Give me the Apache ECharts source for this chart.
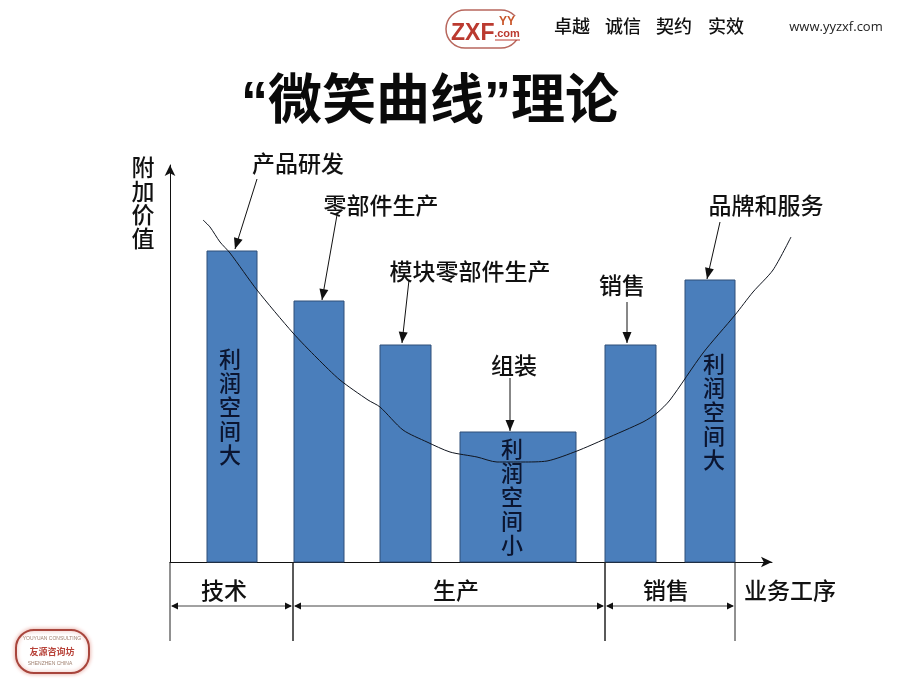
<!DOCTYPE html>
<html><head><meta charset="utf-8">
<style>html,body{margin:0;padding:0;background:#fff}#c{width:920px;height:690px}</style>
<script src="https://cdn.jsdelivr.net/npm/echarts@6/dist/echarts.min.js"></script>
</head><body><div id="c"></div>
<script>
const barNames   = ['产品研发','零部件生产','模块零部件生产','组装','销售','品牌和服务'];
const barStarts  = [37,124,210,290,435,515];
const barEnds    = [87,174,261,406,486,565];
const barValues  = [311,261,217,130,217,282];
const curveX = [33,40,50,60,87,123,147,170,198,210,233,257,280,307,327,353,377,407,435,473,487,500,533,565,583,603,621];
const curveY = [342,335,320,309,272,229,204,182,162,155,132,120,110,105,100,100,101,111,123,140,149,162,209,247,270,292,325];
const labelX = [128,211,300,344,452,596];
const labelY = [399,357,291,197,277,357];
const arrowFromX = [87,167,239,340,457,550];
const arrowFromY = [383,347,282,184,260,340];
const arrowToX   = [65,152,232,340,457,537];
const arrowToY   = [313,262,219,131,219,283];
const innerTexts = ['利润空间大','利润空间小','利润空间大'];
const innerX = [60,342,544];
const innerY = [155,65,150];
const stageNames = ['技术','生产','销售'];
const stageEdges = [0,123,435,565];
const stageLabelX = [54,286,496];
const xAxisName = '业务工序';
const yAxisName = '附加价值';
const titleText = '“微笑曲线”理论';
const slogan = ['卓越','诚信','契约','实效'];
const sloganX = [572,623,674,726];
const website = 'www.yyzxf.com';

const LABEL_FONT = '500 23px "Noto Sans CJK SC"';
const NAVY = '#0b1530';

function arrowHead(tip, from, len, half, color){
  const dx = tip[0]-from[0], dy = tip[1]-from[1], d = Math.hypot(dx,dy)||1;
  const ux = dx/d, uy = dy/d;
  const bx = tip[0]-ux*len, by = tip[1]-uy*len;
  return {type:'polygon',shape:{points:[tip,[bx-uy*half,by+ux*half],[bx+uy*half,by-ux*half]]},style:{fill:color}};
}
function text(t,x,y,font,fill,lineHeight){
  return {type:'text',style:{text:t,x:x,y:y,font:font,fill:fill||'#111',align:'center',verticalAlign:'middle',lineHeight:lineHeight}};
}
const vertical = s => s.split('').join('\n');

const option = {
  backgroundColor:'#ffffff',
  animation:false,
  title:{text:titleText,left:425,top:72,textAlign:'center',
    textStyle:{fontFamily:'"Liberation Sans","Noto Sans CJK SC"',fontSize:54,fontWeight:'bold',color:'#0a0a0a'}},
  grid:[{left:170,top:165,width:602,height:397},{left:170,top:165,width:622,height:397}],
  xAxis:[{type:'value',min:0,max:602,splitLine:{show:false},axisTick:{show:false},axisLabel:{show:false},
    axisLine:{show:true,onZero:false,symbol:['none','arrow'],symbolSize:[8,11],lineStyle:{color:'#111',width:1}}},
    {type:'value',gridIndex:1,min:0,max:622,show:false}],
  yAxis:[{type:'value',min:0,max:397,splitLine:{show:false},axisTick:{show:false},axisLabel:{show:false},
    axisLine:{show:true,onZero:false,symbol:['none','arrow'],symbolSize:[8,11],lineStyle:{color:'#111',width:1}}},
    {type:'value',gridIndex:1,min:0,max:397,show:false}],
  series:[
    {type:'custom',name:'工序',clip:false,z:2,coordinateSystem:'cartesian2d',
     data:barNames.map((n,i)=>[barStarts[i],barEnds[i],barValues[i]]),
     encode:{x:[0,1],y:2},
     renderItem:(p,api)=>{
       const a=api.coord([api.value(0),api.value(2)]), b=api.coord([api.value(1),0]);
       return {type:'rect',shape:{x:a[0],y:a[1],width:b[0]-a[0],height:b[1]-a[1]},
         style:{fill:'#4a7ebb',stroke:'#2f4f78',lineWidth:1}};
     }},
    {type:'line',name:'微笑曲线',xAxisIndex:1,yAxisIndex:1,z:3,clip:false,showSymbol:false,symbol:'none',smooth:0.25,
     lineStyle:{color:'#10151f',width:1},
     data:curveX.map((x,i)=>[x,curveY[i]])},
    {type:'custom',name:'标注',clip:false,z:4,coordinateSystem:'cartesian2d',
     data:barNames.map((n,i)=>[arrowFromX[i],arrowFromY[i],arrowToX[i],arrowToY[i]]),
     encode:{x:[0,2],y:[1,3]},
     renderItem:(p,api)=>{
       const f=api.coord([api.value(0),api.value(1)]), t=api.coord([api.value(2),api.value(3)]);
       return {type:'group',children:[
         {type:'line',shape:{x1:f[0],y1:f[1],x2:t[0],y2:t[1]},style:{stroke:'#111',lineWidth:1}},
         arrowHead(t,f,11,4.5,'#111'),
         text(barNames[p.dataIndex],api.coord([labelX[p.dataIndex],0])[0],api.coord([0,labelY[p.dataIndex]])[1],LABEL_FONT,'#111')
       ]};
     }},
    {type:'custom',name:'利润',clip:false,z:5,coordinateSystem:'cartesian2d',
     data:innerTexts.map((n,i)=>[innerX[i],innerY[i]]),
     encode:{x:0,y:1},
     renderItem:(p,api)=>{
       const c=api.coord([api.value(0),api.value(1)]);
       return text(vertical(innerTexts[p.dataIndex]),c[0],c[1],'500 22px "Noto Sans CJK SC"',NAVY,24);
     }},
    {type:'custom',name:'阶段',clip:false,z:2,coordinateSystem:'cartesian2d',
     data:stageNames.map((n,i)=>[stageEdges[i],stageEdges[i+1],stageLabelX[i]]),
     encode:{x:[0,1]},
     renderItem:(p,api)=>{
       const y0=api.coord([0,0])[1];
       const l=api.coord([api.value(0),0])[0], r=api.coord([api.value(1),0])[0], cx=api.coord([api.value(2),0])[0];
       const ay=y0+44;
       const ch=[
         {type:'line',shape:{x1:l,y1:y0,x2:l,y2:y0+79},style:{stroke:'#222',lineWidth:1}},
         {type:'line',shape:{x1:r,y1:y0,x2:r,y2:y0+79},style:{stroke:'#222',lineWidth:1}},
         {type:'line',shape:{x1:l+2,y1:ay,x2:r-2,y2:ay},style:{stroke:'#444',lineWidth:1}},
         arrowHead([l+1,ay],[r,ay],7,3.5,'#111'),
         arrowHead([r-1,ay],[l,ay],7,3.5,'#111'),
         text(stageNames[p.dataIndex],cx,y0+28,LABEL_FONT,'#111')
       ];
       return {type:'group',children:ch};
     }}
  ],
  graphic:[
    {type:'text',style:{text:vertical(yAxisName),x:143,y:203,font:LABEL_FONT,fill:'#111',align:'center',verticalAlign:'middle',lineHeight:23.5}},
    {type:'text',style:{text:xAxisName,x:790,y:590,font:LABEL_FONT,fill:'#111',align:'center',verticalAlign:'middle'}},
    {type:'rect',shape:{x:446,y:10,width:74,height:38,r:19},style:{fill:'#fff',stroke:'#b8675d',lineWidth:1.5}},
    {type:'text',style:{text:'ZXF',x:451,y:34,font:'bold 23px "Liberation Sans"',fill:'#bb3a30',verticalAlign:'middle'}},
    {type:'rect',shape:{x:494,y:16,width:28,height:24},style:{fill:'#fff'}},
    {type:'text',style:{text:'YY',x:507,y:22,font:'bold 12px "Liberation Sans"',fill:'#c9562a',align:'center',verticalAlign:'middle'}},
    {type:'text',style:{text:'.com',x:507,y:34,font:'bold 11px "Liberation Sans"',fill:'#bb3a30',align:'center',verticalAlign:'middle'}},
    {type:'line',shape:{x1:495,y1:40,x2:520,y2:40},style:{stroke:'#bb3a30',lineWidth:1}},
    ...slogan.map((s,i)=>({type:'text',style:{text:s,x:sloganX[i],y:26,font:'500 18px "Noto Sans CJK SC"',fill:'#111',align:'center',verticalAlign:'middle'}})),
    {type:'text',style:{text:website,x:836,y:27,font:'13px "Open Sans"',fill:'#222',align:'center',verticalAlign:'middle'}},
    {type:'rect',shape:{x:16,y:630,width:73,height:43,r:18},style:{fill:'#fff',stroke:'#a8453c',lineWidth:2,shadowBlur:4,shadowColor:'#e6a8a0'}},
    {type:'text',style:{text:'友源咨询坊',x:52,y:652,font:'bold 9px "Noto Sans CJK SC"',fill:'#b8433a',align:'center',verticalAlign:'middle'}},
    {type:'text',style:{text:'YOUYUAN CONSULTING',x:52,y:639,font:'5px "Liberation Sans"',fill:'#a08070',align:'center',verticalAlign:'middle'}},
    {type:'text',style:{text:'SHENZHEN CHINA',x:50,y:664,font:'5px "Liberation Sans"',fill:'#a08070',align:'center',verticalAlign:'middle'}}
  ]
};
echarts.init(document.getElementById('c'),null,{renderer:'canvas'}).setOption(option);
</script></body></html>
